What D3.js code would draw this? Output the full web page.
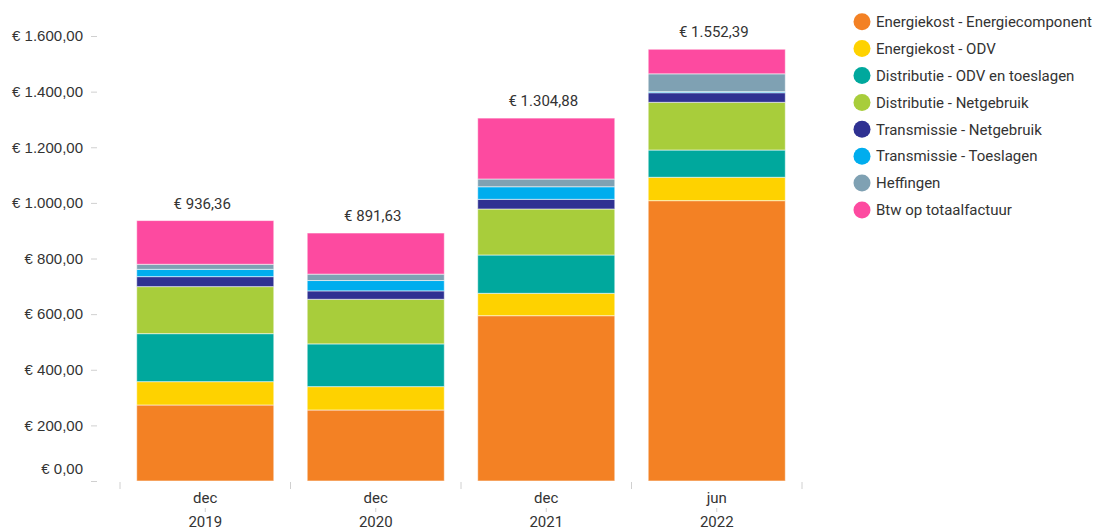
<!DOCTYPE html>
<html>
<head>
<meta charset="utf-8">
<script src="https://cdn.jsdelivr.net/npm/d3@7"></script>
<style>
  html, body { margin: 0; padding: 0; background: #fff; }
  svg { display: block; font-family: Roboto, "Noto Sans", sans-serif; }
</style>
</head>
<body>
<svg id="chart" width="1104" height="530"></svg>
<script>
// ---- data ----
const months = ["dec", "dec", "dec", "jun"];
const years = ["2019", "2020", "2021", "2022"];
const seriesNames = [
  "Energiekost - Energiecomponent",
  "Energiekost - ODV",
  "Distributie - ODV en toeslagen",
  "Distributie - Netgebruik",
  "Transmissie - Netgebruik",
  "Transmissie - Toeslagen",
  "Heffingen",
  "Btw op totaalfactuur"
];
const seriesColors = ["#F38124", "#FED200", "#00A89D", "#A8CD3B", "#2F3192", "#00ADEE", "#7FA1B3", "#FD4AA0"];
const energiecomponent = [273.30, 255.30, 594.40, 1008.00];
const energieOdv       = [83.90, 84.00, 80.40, 84.00];
const distributieOdv   = [172.60, 153.70, 137.80, 98.00];
const distributieNet   = [169.10, 160.40, 165.40, 171.60];
const transmissieNet   = [35.90, 30.20, 34.80, 34.40];
const transmissieToesl = [26.30, 37.20, 45.20, 4.00];
const heffingen        = [18.10, 23.00, 27.80, 64.00];
const btw              = [157.16, 147.83, 219.08, 88.39];
const yTicks = [0, 200, 400, 600, 800, 1000, 1200, 1400, 1600];

const seriesValues = [energiecomponent, energieOdv, distributieOdv, distributieNet,
                      transmissieNet, transmissieToesl, heffingen, btw];

// ---- table for d3.stack ----
const keys = seriesNames;
const table = years.map((y, i) => {
  const row = { key: i };
  keys.forEach((k, s) => row[k] = seriesValues[s][i]);
  return row;
});
const stacked = d3.stack().keys(keys)(table);

const svg = d3.select("#chart");
const x = d3.scaleBand().domain(d3.range(years.length)).range([120, 802])
  .paddingInner(0.196).paddingOuter(0.098);
const y = d3.scaleLinear().domain([0, 1600]).range([481, 36]);

const fmt = d3.formatLocale({ decimal: ",", thousands: ".", grouping: [3], currency: ["€ ", ""] });
const money = fmt.format("$,.2f");
const FS = "15px";

// y axis
const yAxis = svg.append("g").attr("transform", "translate(97,0)")
  .call(d3.axisLeft(y).tickValues(yTicks).tickSize(6).tickPadding(8).tickFormat(money));
yAxis.select(".domain").remove();
yAxis.selectAll(".tick line").attr("stroke", "#d0d0d0");
yAxis.selectAll(".tick text").attr("fill", "#333").style("font-size", FS)
  .attr("dy", d => d === 0 ? "-0.5em" : "0.32em");

// bars
const colorOf = d3.scaleOrdinal().domain(keys).range(seriesColors);
svg.append("g").selectAll("g").data(stacked).join("g")
  .attr("fill", d => colorOf(d.key))
  .selectAll("rect").data(d => d).join("rect")
  .attr("x", d => x(d.data.key))
  .attr("width", x.bandwidth())
  .attr("y", d => y(d[1]))
  .attr("height", d => y(d[0]) - y(d[1]))
  .attr("stroke", "rgba(255,255,255,0.55)")
  .attr("stroke-width", 1);

// totals
const totals = table.map((r, i) => d3.sum(keys, k => r[k]));
svg.append("g").selectAll("text").data(totals).join("text")
  .attr("x", (d, i) => x(i) + x.bandwidth() / 2 - 3)
  .attr("y", d => y(d) - 17)
  .attr("dy", "0.35em")
  .attr("text-anchor", "middle")
  .attr("fill", "#333")
  .style("font-size", FS)
  .text(d => money(d));

// x axis
const xg = svg.append("g");
const bounds = d3.range(years.length + 1).map(i => i === years.length ? 802 : x(i) - x.step() * x.paddingInner() / 2);
xg.selectAll("line.b").data(bounds).join("line").attr("class", "b")
  .attr("x1", d => d).attr("x2", d => d).attr("y1", 482).attr("y2", 489)
  .attr("stroke", "#d0d0d0");
xg.selectAll("text.m").data(months).join("text").attr("class", "m")
  .attr("x", (d, i) => x(i) + x.bandwidth() / 2)
  .attr("y", 498).attr("dy", "0.35em").attr("text-anchor", "middle")
  .attr("fill", "#333").style("font-size", FS).text(d => d);
xg.selectAll("line.c").data(years).join("line").attr("class", "c")
  .attr("x1", (d, i) => x(i) + x.bandwidth() / 2).attr("x2", (d, i) => x(i) + x.bandwidth() / 2)
  .attr("y1", 508).attr("y2", 512).attr("stroke", "#d0d0d0");
xg.selectAll("text.y").data(years).join("text").attr("class", "y")
  .attr("x", (d, i) => x(i) + x.bandwidth() / 2)
  .attr("y", 522).attr("dy", "0.35em").attr("text-anchor", "middle")
  .attr("fill", "#333").style("font-size", FS).text(d => d);

// legend
const lg = svg.append("g").selectAll("g").data(keys).join("g")
  .attr("transform", (d, i) => `translate(862,${21.7 + i * 26.9})`);
lg.append("circle").attr("r", 8.5).attr("fill", d => colorOf(d));
lg.append("text").attr("x", 14).attr("dy", "0.35em").attr("fill", "#333")
  .style("font-size", FS).text(d => d);
</script>
</body>
</html>
